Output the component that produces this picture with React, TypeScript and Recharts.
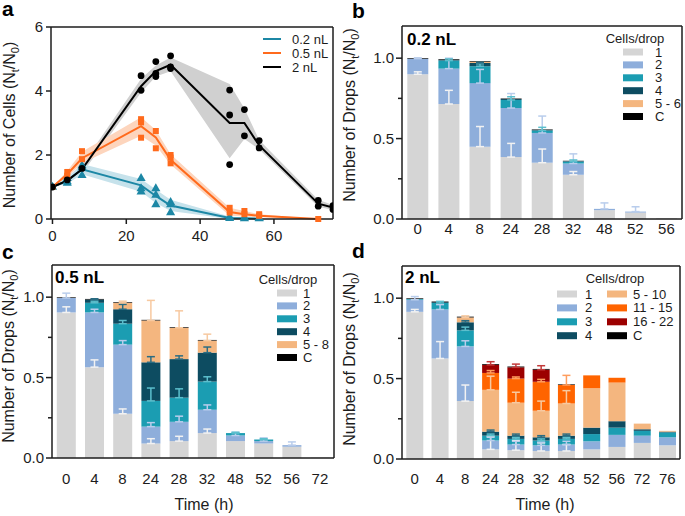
import React from 'react';
import {
  ComposedChart, BarChart, Bar, Line, Area, Scatter, XAxis, YAxis, ZAxis, ErrorBar, Legend, CartesianGrid,
} from 'recharts';

const FONT = '"Liberation Sans", Arial, Helvetica, sans-serif';
const INK = '#1c1c1c';

// ---------------- Panel a: number of cells over time ----------------
const A_NAMES = ['0.2 nL', '0.5 nL', '2 nL'];
const A_COLORS = ['#1c87a5', '#ff6a1c', '#000000'];
const A_BANDS = ['#c6e2eb', '#fdd5bd', '#d0d0d0'];

const T_02 = [0, 4, 8, 24, 28, 32, 48, 52, 56];
const MEAN_02 = [1.0, 1.2, 1.55, 1.05, 0.72, 0.42, 0.03, 0.02, 0.01];
const LO_02 = [1.0, 1.1, 1.4, 0.85, 0.5, 0.25, 0.0, 0.0, 0.0];
const HI_02 = [1.0, 1.3, 1.72, 1.25, 0.92, 0.6, 0.08, 0.05, 0.03];
const PTS_02 = [[0, 1.0], [4, 1.27], [4, 1.17], [4, 1.12], [8, 1.67], [8, 1.6], [8, 1.36], [24, 1.27], [24, 0.95], [24, 0.85], [28, 0.95], [28, 0.75], [28, 0.45], [32, 0.52], [32, 0.45], [32, 0.2], [48, 0.06], [48, 0.02], [52, 0.04], [52, 0.01], [56, 0.03], [56, 0.01]];

const T_05 = [0, 4, 8, 24, 28, 32, 48, 52, 56, 72];
const MEAN_05 = [1.0, 1.4, 1.9, 2.9, 2.55, 1.85, 0.22, 0.15, 0.1, 0.0];
const LO_05 = [1.0, 1.3, 1.75, 2.6, 2.3, 1.7, 0.1, 0.08, 0.06, 0.0];
const HI_05 = [1.0, 1.5, 2.1, 3.18, 2.78, 2.02, 0.35, 0.25, 0.15, 0.0];
const PTS_05 = [[0, 1.0], [4, 1.47], [4, 1.35], [8, 2.12], [8, 1.87], [24, 3.12], [24, 3.02], [24, 2.54], [28, 2.75], [28, 2.21], [32, 2.0], [32, 1.92], [32, 1.74], [48, 0.35], [48, 0.2], [52, 0.25], [52, 0.15], [56, 0.15], [56, 0.1], [72, 0.0]];

const T_2 = [0, 4, 8, 24, 28, 32, 48, 52, 56, 72, 76];
const MEAN_2 = [1.0, 1.2, 1.55, 4.15, 4.62, 4.82, 3.0, 3.0, 2.3, 0.48, 0.36];
const LO_2 = [1.0, 1.12, 1.42, 3.95, 4.45, 4.62, 1.9, 2.5, 2.18, 0.38, 0.28];
const HI_2 = [1.0, 1.3, 1.68, 4.38, 4.8, 5.05, 4.22, 3.45, 2.47, 0.6, 0.44];
const PTS_2 = [[0, 1.0], [4, 1.22], [8, 1.58], [24, 4.48], [24, 4.02], [28, 4.92], [28, 4.55], [28, 4.45], [32, 5.1], [32, 4.75], [32, 4.7], [48, 4.03], [48, 3.25], [48, 1.7], [52, 3.42], [52, 2.6], [56, 2.45], [56, 2.22], [72, 0.58], [72, 0.4], [76, 0.42], [76, 0.3]];

const A_X_TICKS = [0, 20, 40, 60];
const A_Y_TICKS = [0, 2, 4, 6];

// ---------------- Panel b: 0.2 nL ----------------
const B_CATS = [0, 4, 8, 24, 28, 32, 48, 52, 56];
const B_NAMES = ['1', '2', '3', '4', '5 - 6', 'C'];
const B_1 = [0.9, 0.715, 0.45, 0.385, 0.35, 0.275, 0.055, 0.04, 0.005];
const B_2 = [0.097, 0.22, 0.395, 0.305, 0.185, 0.07, 0.008, 0.006, 0];
const B_3 = [0, 0.05, 0.105, 0.05, 0.015, 0.012, 0, 0, 0];
const B_4 = [0, 0.005, 0.02, 0.006, 0.004, 0.003, 0, 0, 0];
const B_5 = [0, 0, 0.008, 0, 0, 0, 0, 0, 0];
const B_C = [0.004, 0.004, 0.004, 0.003, 0.003, 0.002, 0, 0, 0];
const B_E1 = [0.015, 0.085, 0.125, 0.085, 0.085, 0.02, 0, 0, 0];
const B_E2 = [0.005, 0.065, 0.085, 0.09, 0.105, 0.06, 0.037, 0.03, 0.025];
const B_E3 = [0, 0.01, 0.015, 0.02, 0.02, 0.01, 0, 0, 0];
const B_E4 = [0, 0, 0.005, 0, 0, 0, 0, 0, 0];
const B_E5 = [0, 0, 0, 0, 0, 0, 0, 0, 0];
const B_EC = [0, 0, 0, 0, 0, 0, 0, 0, 0];

// ---------------- Panel c: 0.5 nL ----------------
const C_CATS = [0, 4, 8, 24, 28, 32, 48, 52, 56, 72];
const C_NAMES = ['1', '2', '3', '4', '5 - 8', 'C'];
const C_1 = [0.905, 0.565, 0.275, 0.09, 0.105, 0.155, 0.105, 0.09, 0.07, 0.003];
const C_2 = [0.09, 0.34, 0.43, 0.105, 0.12, 0.145, 0.035, 0.015, 0.01, 0];
const C_3 = [0, 0.06, 0.13, 0.16, 0.15, 0.175, 0.015, 0.01, 0, 0];
const C_4 = [0, 0.02, 0.09, 0.24, 0.24, 0.18, 0, 0, 0, 0];
const C_5 = [0, 0, 0.04, 0.26, 0.195, 0.075, 0, 0, 0, 0];
const C_C = [0.004, 0.004, 0.004, 0.004, 0.004, 0.004, 0, 0, 0, 0];
const C_E1 = [0.035, 0.045, 0.03, 0.03, 0.03, 0.025, 0, 0, 0, 0];
const C_E2 = [0.03, 0.02, 0.025, 0.025, 0.035, 0.03, 0.02, 0.02, 0.02, 0];
const C_E3 = [0, 0.01, 0.02, 0.08, 0.055, 0.03, 0.005, 0.005, 0, 0];
const C_E4 = [0, 0.005, 0.03, 0.035, 0.02, 0.035, 0, 0, 0, 0];
const C_E5 = [0, 0, 0.01, 0.125, 0.105, 0.04, 0, 0, 0, 0];
const C_EC = [0, 0, 0, 0, 0, 0, 0, 0, 0, 0];

// ---------------- Panel d: 2 nL ----------------
const D_CATS = [0, 4, 8, 24, 28, 32, 48, 52, 56, 72, 76];
const D_NAMES = ['1', '2', '3', '4', '5 - 10', '11 - 15', '16 - 22', 'C'];
const D_1 = [0.915, 0.625, 0.36, 0.06, 0.055, 0.05, 0.05, 0.06, 0.075, 0.1, 0.085];
const D_2 = [0.075, 0.305, 0.34, 0.055, 0.035, 0.035, 0.04, 0.05, 0.075, 0.045, 0.05];
const D_3 = [0.005, 0.04, 0.1, 0.03, 0.035, 0.03, 0.035, 0.045, 0.045, 0.03, 0.03];
const D_4 = [0, 0.005, 0.05, 0.025, 0.02, 0.02, 0.02, 0.04, 0.04, 0.01, 0.005];
const D_5 = [0, 0, 0.03, 0.26, 0.205, 0.165, 0.2, 0.245, 0.24, 0.035, 0.005];
const D_6 = [0, 0, 0, 0.105, 0.15, 0.18, 0.115, 0.08, 0.03, 0, 0];
const D_7 = [0, 0, 0, 0.05, 0.07, 0.075, 0, 0, 0, 0, 0];
const D_C = [0.004, 0.004, 0.005, 0.005, 0.005, 0.005, 0.004, 0, 0, 0, 0];
const D_E1 = [0.015, 0.105, 0.1, 0.08, 0.06, 0.05, 0.04, 0, 0, 0, 0];
const D_E2 = [0.02, 0.03, 0.035, 0.02, 0.02, 0.02, 0.02, 0, 0, 0, 0];
const D_E3 = [0, 0.01, 0.02, 0.01, 0.01, 0.01, 0.01, 0, 0, 0, 0];
const D_E4 = [0, 0, 0.01, 0.01, 0.01, 0.01, 0.01, 0, 0, 0, 0];
const D_E5 = [0, 0, 0.01, 0.085, 0.065, 0.06, 0.08, 0, 0, 0, 0];
const D_E6 = [0, 0, 0, 0.015, 0.01, 0.015, 0.06, 0, 0, 0, 0];
const D_E7 = [0, 0, 0, 0.02, 0.02, 0.025, 0, 0, 0, 0, 0];
const D_EC = [0, 0, 0, 0, 0, 0, 0, 0, 0, 0, 0];

const BAR_Y_TICKS = [0, 0.25, 0.5, 0.75, 1.0];

// colours of the cells/drop classes
const COL = {
  one: '#d5d5d5', two: '#8eaedb', three: '#1b9db2', four: '#0d4c61',
  lo: '#f4b67f', mid: '#ff6400', hi: '#9c0000', c: '#000000',
};
const ERR = {
  one: '#f2f2f2', two: '#b9cdec', three: '#5cbfcd', four: '#2b6c82',
  lo: '#f7c9a0', mid: '#ff9d5e', hi: '#c23a3a', c: '#000000',
};

// ---------------- helpers ----------------
const yTitle = (main: string, cx: number, cy: number) => () => (
  <text
    x={cx} y={cy} transform={`rotate(-90 ${cx} ${cy})`} textAnchor="middle" dy="0.35em"
    fontSize={16} fontFamily={FONT} fill={INK}
  >
    {main + ' (N'}
    <tspan fontSize={11} dy={4}>t</tspan>
    <tspan dy={-4}>/N</tspan>
    <tspan fontSize={11} dy={4}>0</tspan>
    <tspan dy={-4}>)</tspan>
  </text>
);

const timeTitle = (cx: number, baseline: number) => () => (
  <text x={cx} y={baseline} textAnchor="middle" fontSize={16} fontFamily={FONT} fill={INK}>Time (h)</text>
);

// frame (top + right edges of the plot area), derived from the chart's own layout
const topEdge = (p: any) => [p.offset.top];
const rightEdge = (p: any) => [p.offset.left + p.offset.width];
const Frame = () => (
  <CartesianGrid
    stroke={INK} strokeWidth={1.5} horizontalCoordinatesGenerator={topEdge}
    verticalCoordinatesGenerator={rightEdge} fill="none"
  />
);

const BarYTick = (props: any) => {
  const { x, y, payload } = props;
  const v = payload.value as number;
  const major = Math.abs(v * 2 - Math.round(v * 2)) < 1e-6;
  const ax = x + 8;
  return (
    <g>
      <line x1={ax - (major ? 6 : 4)} x2={ax} y1={y} y2={y} stroke={INK} strokeWidth={1.5} />
      {major && (
        <text x={x} y={y} dy="0.355em" textAnchor="end" fontSize={15} fontFamily={FONT} fill={INK}>
          {v.toFixed(1)}
        </text>
      )}
    </g>
  );
};

type Ser = { name: string; color: string; err: string };
type LegendCfg = {
  headerX: number; headerY: number; rowY: number; rowStep: number;
  cols: { swX: number; labelX: number; rows: number[] }[];
};

function BarPanel(p: {
  w: number; h: number; margin: any; xh: number; yw: number; tickSize: number; tickMargin: number;
  cats: number[]; series: Ser[]; values: number[][]; errors: number[][];
  yTitleX: number; yTitleY: number; time?: { cx: number; base: number }; legend: LegendCfg;
}) {
  const data = p.cats.map((c, i) => {
    const row: Record<string, any> = { cat: String(c) };
    p.series.forEach((s, j) => {
      row['s' + j] = p.values[j][i];
      const e = p.errors[j][i];
      row['e' + j] = e > 0 ? [0, e] : null;
    });
    return row;
  });
  const L = p.legend;
  const legendContent = () => (
    <svg width={p.w} height={p.h} style={{ position: 'absolute', left: 0, top: 0, overflow: 'visible' }}>
      <text x={L.headerX} y={L.headerY} dy="0.35em" textAnchor="middle" fontSize={13} fontFamily={FONT} fill={INK}>Cells/drop</text>
      {L.cols.map((col, ci) =>
        col.rows.map((si, ri) => {
          const s = p.series[si];
          const yy = L.rowY + ri * L.rowStep;
          return (
            <g key={ci + '-' + ri}>
              <rect x={col.swX} y={yy - 3.5} width={20} height={7} fill={s.color} />
              <text x={col.labelX} y={yy} dy="0.35em" fontSize={13} fontFamily={FONT} fill={INK}>{s.name}</text>
            </g>
          );
        }),
      )}
    </svg>
  );
  return (
    <BarChart width={p.w} height={p.h} data={data} margin={p.margin} barCategoryGap="17%">
      {Frame()}
      <XAxis
        dataKey="cat" interval={0} height={p.xh} tickLine={false} tickSize={p.tickSize} tickMargin={p.tickMargin}
        stroke={INK} strokeWidth={1.5} tick={{ fill: INK, fontSize: 15, fontFamily: FONT }}
        label={p.time ? timeTitle(p.time.cx, p.time.base) : undefined}
      />
      <YAxis
        type="number" domain={[0, 1.2]} ticks={BAR_Y_TICKS} width={p.yw} tickSize={6} tickMargin={2}
        tickLine={false} tick={BarYTick} stroke={INK} strokeWidth={1.5} allowDataOverflow
        label={yTitle('Number of Drops', p.yTitleX, p.yTitleY)}
      />
      {p.series.map((s, j) => (
        <Bar key={s.name} dataKey={'s' + j} name={s.name} stackId="a" fill={s.color} isAnimationActive={false}>
          <ErrorBar dataKey={'e' + j} width={4} stroke={s.err} strokeWidth={1.5} direction="y" />
        </Bar>
      ))}
      <Legend
        layout="vertical" align="center" verticalAlign="middle"
        wrapperStyle={{ left: 0, top: 0, width: p.w, height: p.h }}
        content={legendContent}
      />
    </BarChart>
  );
}

function PanelA() {
  const series = [
    { t: T_02, m: MEAN_02, lo: LO_02, hi: HI_02, pts: PTS_02, shape: 'triangle' },
    { t: T_05, m: MEAN_05, lo: LO_05, hi: HI_05, pts: PTS_05, shape: 'square' },
    { t: T_2, m: MEAN_2, lo: LO_2, hi: HI_2, pts: PTS_2, shape: 'circle' },
  ];
  const lineData = series.map((s) => s.t.map((t, i) => ({ t, m: s.m[i], r: [s.lo[i], s.hi[i]] })));
  const ptData = series.map((s) => s.pts.map(([t, v]) => ({ t, v })));
  const order = [2, 1, 0];
  const legendContent = () => (
    <svg width={340} height={250} style={{ position: 'absolute', left: 0, top: 0, overflow: 'visible' }}>
      {A_NAMES.map((n, i) => (
        <g key={n}>
          <line x1={263} x2={281} y1={39 + 14 * i} y2={39 + 14 * i} stroke={A_COLORS[i]} strokeWidth={2} />
          <text x={292} y={39 + 14 * i} dy="0.35em" fontSize={13} fontFamily={FONT} fill={INK}>{n}</text>
        </g>
      ))}
    </svg>
  );
  return (
    <ComposedChart width={340} height={250} margin={{ top: 27, right: 7, bottom: 2, left: 0 }}>
      {Frame()}
      <XAxis
        type="number" dataKey="t" domain={[-0.4, 76]} ticks={A_X_TICKS} allowDataOverflow height={29}
        tickSize={5} tickMargin={6} stroke={INK} strokeWidth={1.5} tick={{ fill: INK, fontSize: 15, fontFamily: FONT }}
      />
      <YAxis
        type="number" domain={[0, 6]} ticks={A_Y_TICKS} width={51} tickSize={5} tickMargin={3}
        stroke={INK} strokeWidth={1.5} tick={{ fill: INK, fontSize: 15, fontFamily: FONT }}
        label={yTitle('Number of Cells', 9.5, 125)}
      />
      <ZAxis range={[36, 36]} />
      {order.map((i) => (
        <Area
          key={'band' + i} data={lineData[i]} dataKey="r" type="linear" fill={A_BANDS[i]} fillOpacity={1}
          stroke="none" isAnimationActive={false} legendType="none"
        />
      ))}
      {[0, 1, 2].map((i) => (
        <Line
          key={'line' + i} data={lineData[i]} dataKey="m" name={A_NAMES[i]} type="linear" stroke={A_COLORS[i]}
          strokeWidth={2} dot={false} isAnimationActive={false}
        />
      ))}
      {[0, 1, 2].map((i) => (
        <Scatter
          key={'pts' + i} data={ptData[i]} dataKey="v" fill={A_COLORS[i]} shape={series[i].shape as any}
          isAnimationActive={false} legendType="none"
        />
      ))}
      <Legend
        layout="vertical" align="center" verticalAlign="middle"
        wrapperStyle={{ left: 0, top: 0, width: 340, height: 250 }}
        content={legendContent}
      />
    </ComposedChart>
  );
}

const B_SERIES: Ser[] = [
  { name: B_NAMES[0], color: COL.one, err: ERR.one },
  { name: B_NAMES[1], color: COL.two, err: ERR.two },
  { name: B_NAMES[2], color: COL.three, err: ERR.three },
  { name: B_NAMES[3], color: COL.four, err: ERR.four },
  { name: B_NAMES[4], color: COL.lo, err: ERR.lo },
  { name: B_NAMES[5], color: COL.c, err: ERR.c },
];
const C_SERIES: Ser[] = [
  { name: C_NAMES[0], color: COL.one, err: ERR.one },
  { name: C_NAMES[1], color: COL.two, err: ERR.two },
  { name: C_NAMES[2], color: COL.three, err: ERR.three },
  { name: C_NAMES[3], color: COL.four, err: ERR.four },
  { name: C_NAMES[4], color: COL.lo, err: ERR.lo },
  { name: C_NAMES[5], color: COL.c, err: ERR.c },
];
const D_SERIES: Ser[] = [
  { name: D_NAMES[0], color: COL.one, err: ERR.one },
  { name: D_NAMES[1], color: COL.two, err: ERR.two },
  { name: D_NAMES[2], color: COL.three, err: ERR.three },
  { name: D_NAMES[3], color: COL.four, err: ERR.four },
  { name: D_NAMES[4], color: COL.lo, err: ERR.lo },
  { name: D_NAMES[5], color: COL.mid, err: ERR.mid },
  { name: D_NAMES[6], color: COL.hi, err: ERR.hi },
  { name: D_NAMES[7], color: COL.c, err: ERR.c },
];

export default function App() {
  return (
    <div style={{ position: 'absolute', left: 0, top: 0, width: 685, height: 516, background: '#fff', overflow: 'hidden', fontFamily: FONT }}>
      <div style={{ position: 'absolute', left: 0, top: 0 }}>
        <PanelA />
      </div>
      <div style={{ position: 'absolute', left: 340, top: 0 }}>
        <BarPanel
          w={345} h={250} margin={{ top: 26, right: 3, bottom: 2, left: 0 }} xh={29} yw={62}
          tickSize={2} tickMargin={2}
          cats={B_CATS} series={B_SERIES}
          values={[B_1, B_2, B_3, B_4, B_5, B_C]} errors={[B_E1, B_E2, B_E3, B_E4, B_E5, B_EC]}
          yTitleX={9} yTitleY={115}
          legend={{ headerX: 295, headerY: 38, rowY: 52, rowStep: 12.9, cols: [{ swX: 283, labelX: 315, rows: [0, 1, 2, 3, 4, 5] }] }}
        />
      </div>
      <div style={{ position: 'absolute', left: 0, top: 250 }}>
        <BarPanel
          w={340} h={266} margin={{ top: 15, right: 6, bottom: 2, left: 0 }} xh={56} yw={52}
          tickSize={6} tickMargin={9}
          cats={C_CATS} series={C_SERIES}
          values={[C_1, C_2, C_3, C_4, C_5, C_C]} errors={[C_E1, C_E2, C_E3, C_E4, C_E5, C_EC]}
          yTitleX={8} yTitleY={106} time={{ cx: 204, base: 260 }}
          legend={{ headerX: 288, headerY: 29, rowY: 43, rowStep: 12.9, cols: [{ swX: 277, labelX: 303, rows: [0, 1, 2, 3, 4, 5] }] }}
        />
      </div>
      <div style={{ position: 'absolute', left: 340, top: 250 }}>
        <BarPanel
          w={345} h={266} margin={{ top: 16, right: 5, bottom: 2, left: 0 }} xh={55} yw={62}
          tickSize={6} tickMargin={8}
          cats={D_CATS} series={D_SERIES}
          values={[D_1, D_2, D_3, D_4, D_5, D_6, D_7, D_C]}
          errors={[D_E1, D_E2, D_E3, D_E4, D_E5, D_E6, D_E7, D_EC]}
          yTitleX={9} yTitleY={109} time={{ cx: 205, base: 260 }}
          legend={{
            headerX: 275, headerY: 28, rowY: 44, rowStep: 13.9,
            cols: [{ swX: 217, labelX: 245, rows: [0, 1, 2, 3] }, { swX: 267, labelX: 293, rows: [4, 5, 6, 7] }],
          }}
        />
      </div>
      <svg width={685} height={516} style={{ position: 'absolute', left: 0, top: 0, pointerEvents: 'none' }}>
        <g fontFamily={FONT} fontWeight="bold" fill="#000">
          <text x={2} y={16} fontSize={21}>a</text>
          <text x={352} y={18} fontSize={21}>b</text>
          <text x={2} y={259} fontSize={21}>c</text>
          <text x={352} y={258} fontSize={21}>d</text>
          <text x={407} y={45} fontSize={17}>0.2 nL</text>
          <text x={55} y={283} fontSize={17}>0.5 nL</text>
          <text x={405} y={283} fontSize={17}>2 nL</text>
        </g>
      </svg>
    </div>
  );
}
